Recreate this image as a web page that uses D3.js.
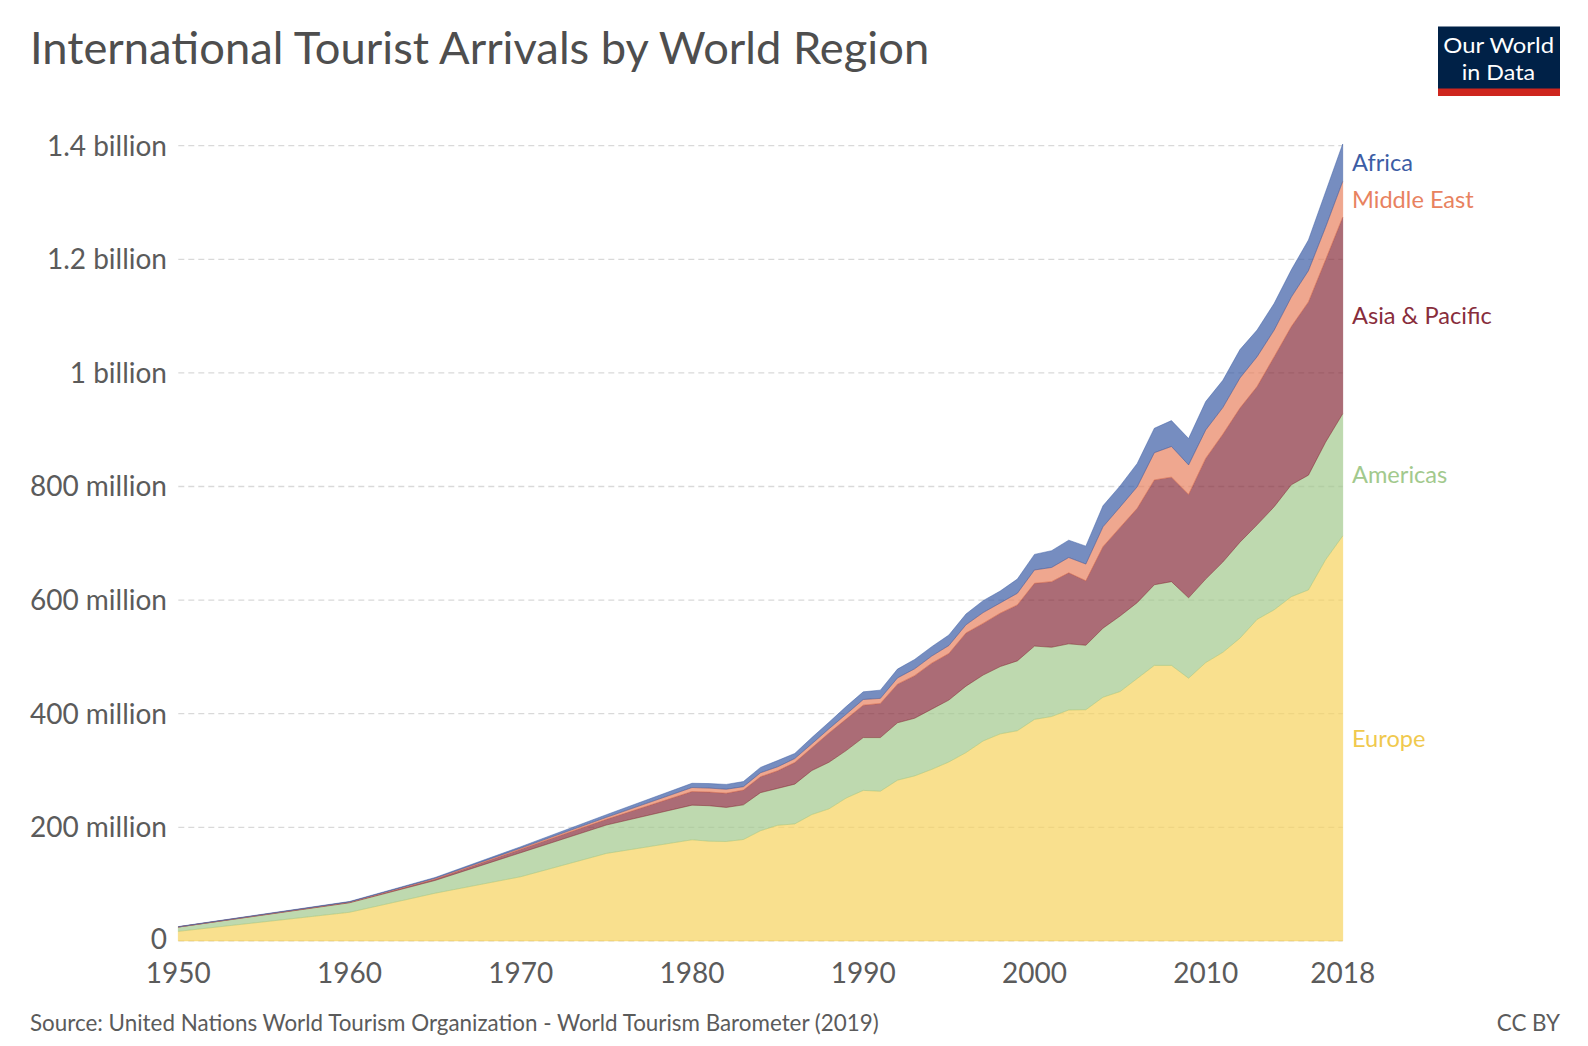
<!DOCTYPE html>
<html><head><meta charset="utf-8">
<script src="https://cdn.jsdelivr.net/npm/d3@7"></script>
<style>
body{margin:0;background:#fff}
svg{display:block}
text{font-family:Lato,"Noto Sans",sans-serif}
</style>
</head><body>
<svg id="chart" width="1588" height="1046"></svg>
<script>
// Values in millions of arrivals
const years = [1950,1960,1965,1970,1975,1980,1981,1982,1983,1984,1985,1986,1987,1988,1989,1990,1991,1992,1993,1994,1995,1996,1997,1998,1999,2000,2001,2002,2003,2004,2005,2006,2007,2008,2009,2010,2011,2012,2013,2014,2015,2016,2017,2018];
const europe = [16.8,50.4,84.0,113.0,154.0,178.0,175.5,175.0,178.5,194.0,203.5,206.0,222.5,232.5,251.5,265.0,263.5,283.0,290.5,302.0,315.0,331.5,352.0,364.5,370.0,390.0,395.0,406.5,407.0,429.0,439.0,462.0,485.0,485.0,462.5,490.0,508.0,533.0,566.0,583.0,606.0,618.0,671.0,713.0];
const americas = [7.5,16.7,22.5,42.3,50.0,61.0,62.5,60.0,61.0,67.0,65.0,70.0,77.5,82.0,83.5,93.0,94.5,101.0,101.5,106.0,109.0,117.0,116.0,118.5,123.0,129.0,122.0,116.5,113.5,121.5,133.0,133.5,142.0,147.5,141.5,147.0,159.0,169.0,166.5,181.5,197.0,202.0,207.0,215.0];
const asiaPacific = [0.2,0.9,2.3,6.2,10.0,24.0,24.0,25.0,26.0,28.0,31.0,38.0,40.0,51.5,55.5,57.0,60.0,68.0,75.0,81.0,82.0,93.5,91.0,94.0,98.5,110.5,115.5,125.0,113.5,143.5,156.0,166.0,184.5,184.0,182.0,212.5,225.0,236.0,243.5,264.0,278.5,305.0,321.0,346.0];
const middleEast = [0.2,0.6,1.5,1.9,3.5,7.0,7.0,7.0,6.0,7.0,7.0,7.0,7.0,7.5,8.5,10.0,9.0,11.0,12.0,12.5,14.0,14.5,19.0,18.0,20.5,23.5,25.0,27.0,29.5,35.0,36.0,38.0,48.0,54.0,52.0,50.0,47.0,53.0,52.5,47.0,52.0,55.0,57.5,63.0];
const africa = [0.5,0.8,1.4,2.4,4.7,7.5,8.0,8.5,9.0,9.5,11.0,9.0,11.0,11.5,13.5,13.5,14.5,15.5,16.5,16.5,18.5,19.0,21.0,21.0,25.0,27.5,29.5,30.5,31.5,37.0,37.0,41.0,43.0,45.5,46.5,50.0,48.0,50.0,47.0,47.0,48.0,54.0,62.0,66.0];

const seriesNames = ["Europe","Americas","Asia & Pacific","Middle East","Africa"];
const seriesColors = ["#f6d35e","#a2c98d","#882d3c","#e8825f","#3c5da5"];
const labelColors = ["#f0c94e","#a2c98d","#882d3c","#e8825f","#3c5da5"];

const yTicks = [0,200,400,600,800,1000,1200,1400];
const yTickLabels = ["0","200 million","400 million","600 million","800 million","1 billion","1.2 billion","1.4 billion"];
const xTicks = [1950,1960,1970,1980,1990,2000,2010,2018];

const titleText = "International Tourist Arrivals by World Region";
const sourceText = "Source: United Nations World Tourism Organization - World Tourism Barometer (2019)";

const svg = d3.select("#chart");

const x = d3.scaleLinear().domain([1950, 2018]).range([178.3, 1342.7]);
const y = d3.scaleLinear().domain([0, 1400]).range([940.9, 145.7]);

const seriesArrays = [europe, americas, asiaPacific, middleEast, africa];
const table = years.map((yr, i) => {
  const row = {year: yr};
  seriesNames.forEach((n, k) => row[n] = seriesArrays[k][i]);
  return row;
});
const stacked = d3.stack().keys(seriesNames)(table);

// gridlines
svg.append("g").selectAll("line").data(yTicks).join("line")
  .attr("x1", x(1950)).attr("x2", x(2018))
  .attr("y1", d => y(d)).attr("y2", d => y(d))
  .attr("stroke", "#d9d9d9").attr("stroke-width", 1.3)
  .attr("stroke-dasharray", "6,4");

// areas
const area = d3.area()
  .x(d => x(d.data.year))
  .y0(d => y(d[0]))
  .y1(d => y(d[1]));

svg.append("g").selectAll("path").data(stacked).join("path")
  .attr("d", area)
  .attr("fill", (d, i) => seriesColors[i])
  .attr("fill-opacity", 0.7)
  .attr("stroke", (d, i) => seriesColors[i])
  .attr("stroke-opacity", 0.6)
  .attr("stroke-width", 0.8);

// y axis labels
svg.append("g").selectAll("text").data(yTicks).join("text")
  .attr("x", 167).attr("y", d => y(d) - (d === 0 ? 2 : 0))
  .attr("dy", "0.35em")
  .attr("text-anchor", "end")
  .attr("font-size", 28)
  .attr("fill", "#5b5b5b")
  .text((d, i) => yTickLabels[i]);

// x axis labels
svg.append("g").selectAll("text").data(xTicks).join("text")
  .attr("x", d => x(d)).attr("y", 973.5)
  .attr("dy", "0.35em")
  .attr("text-anchor", "middle")
  .attr("font-size", 28)
  .attr("fill", "#5b5b5b")
  .text(d => String(d));

// series labels at right
const last = stacked.map(s => s[s.length - 1]);
svg.append("g").selectAll("text").data(last).join("text")
  .attr("x", 1352)
  .attr("y", d => y((d[0] + d[1]) / 2))
  .attr("dy", "0.35em")
  .attr("font-size", 23.6)
  .attr("fill", (d, i) => labelColors[i])
  .text((d, i) => seriesNames[i]);

// title
svg.append("text").attr("x", 30).attr("y", 64)
  .attr("font-size", 45.3).attr("fill", "#4e4e4e")
  .text(titleText);

// source
svg.append("text").attr("x", 30).attr("y", 1031)
  .attr("font-size", 22.4).attr("fill", "#5b5b5b")
  .text(sourceText);
svg.append("text").attr("x", 1560).attr("y", 1031)
  .attr("text-anchor", "end")
  .attr("font-size", 22.4).attr("fill", "#5b5b5b")
  .text("CC BY");

// logo
const logo = svg.append("g");
logo.append("rect").attr("x", 1438).attr("y", 26.5).attr("width", 122).attr("height", 69.5).attr("fill", "#002147");
logo.append("rect").attr("x", 1438).attr("y", 88.5).attr("width", 122).attr("height", 7.5).attr("fill", "#ce261e");
logo.append("text").attr("x", 1498.7).attr("y", 53.3).attr("text-anchor", "middle")
  .attr("font-size", 21.5).attr("fill", "#fff")
  .attr("textLength", 110.7).attr("lengthAdjust", "spacingAndGlyphs")
  .text("Our World");
logo.append("text").attr("x", 1498.4).attr("y", 79.5).attr("text-anchor", "middle")
  .attr("font-size", 21.5).attr("fill", "#fff")
  .attr("textLength", 73.3).attr("lengthAdjust", "spacingAndGlyphs")
  .text("in Data");
</script>
</body></html>
